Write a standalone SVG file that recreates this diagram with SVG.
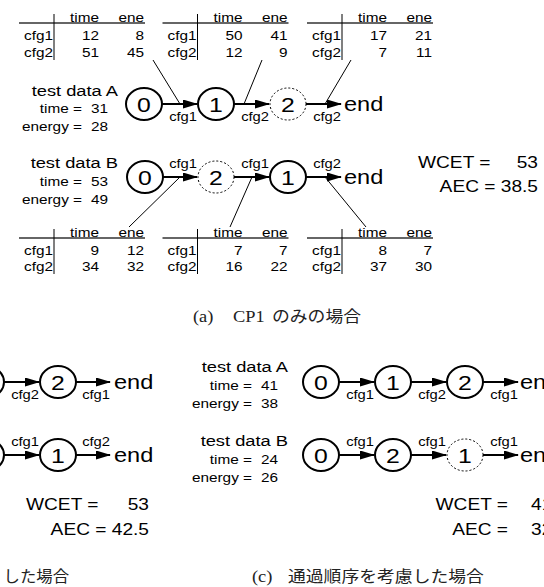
<svg xmlns="http://www.w3.org/2000/svg" width="544" height="587" viewBox="0 0 544 587">
<style>
text{font-family:"Liberation Sans",Arial,sans-serif;fill:#000}
.e{text-anchor:end}.m{text-anchor:middle}
.tb{font-size:13px}
.lb{font-size:15.5px}
.sm{font-size:13px}
.el{font-size:12.5px}
.nd{font-size:21px}
.en{font-size:20px}
.wc{font-size:16.5px}
.cap{font-family:"Liberation Serif","Noto Sans CJK JP",serif;font-size:16px;fill:#222}
.cj{font-size:15.5px}
.solid{fill:#fff;stroke:#000;stroke-width:2}
.dash{fill:#fff;stroke:#000;stroke-width:1;stroke-dasharray:2 2}
.edge{stroke:#000;stroke-width:2;fill:none}
.lead{stroke:#000;stroke-width:1;fill:none}
.hl{stroke:#333;stroke-width:1.3}
.vl{stroke:#000;stroke-width:1}
</style>
<defs>
<marker id="ah" markerUnits="userSpaceOnUse" markerWidth="16" markerHeight="10" refX="14" refY="4.5" orient="auto"><path d="M0,0 L15,4.5 L0,9 z" fill="#000"/></marker>
</defs>

<!-- ===== (a) tables top ===== -->
<g id="tableA1">
<line class="hl" x1="19" y1="23" x2="145" y2="23"/><line class="vl" x1="54" y1="14" x2="54" y2="60"/>
<text class="tb e" transform="translate(99 21.5) scale(1.18 1)">time</text><text class="tb e" transform="translate(144 21.5) scale(1.18 1)">ene</text>
<text class="tb e" transform="translate(53 40) scale(1.18 1)">cfg1</text><text class="tb e" transform="translate(99 40) scale(1.18 1)">12</text><text class="tb e" transform="translate(144 40) scale(1.18 1)">8</text>
<text class="tb e" transform="translate(53 57) scale(1.18 1)">cfg2</text><text class="tb e" transform="translate(99 57) scale(1.18 1)">51</text><text class="tb e" transform="translate(144 57) scale(1.18 1)">45</text>
</g>
<g id="tableA2">
<line class="hl" x1="162.5" y1="23" x2="288.5" y2="23"/><line class="vl" x1="197.5" y1="14" x2="197.5" y2="60"/>
<text class="tb e" transform="translate(242.5 21.5) scale(1.18 1)">time</text><text class="tb e" transform="translate(287.5 21.5) scale(1.18 1)">ene</text>
<text class="tb e" transform="translate(196.5 40) scale(1.18 1)">cfg1</text><text class="tb e" transform="translate(242.5 40) scale(1.18 1)">50</text><text class="tb e" transform="translate(287.5 40) scale(1.18 1)">41</text>
<text class="tb e" transform="translate(196.5 57) scale(1.18 1)">cfg2</text><text class="tb e" transform="translate(242.5 57) scale(1.18 1)">12</text><text class="tb e" transform="translate(287.5 57) scale(1.18 1)">9</text>
</g>
<g id="tableA3">
<line class="hl" x1="307" y1="23" x2="433" y2="23"/><line class="vl" x1="342" y1="14" x2="342" y2="60"/>
<text class="tb e" transform="translate(387 21.5) scale(1.18 1)">time</text><text class="tb e" transform="translate(432 21.5) scale(1.18 1)">ene</text>
<text class="tb e" transform="translate(341 40) scale(1.18 1)">cfg1</text><text class="tb e" transform="translate(387 40) scale(1.18 1)">17</text><text class="tb e" transform="translate(432 40) scale(1.18 1)">21</text>
<text class="tb e" transform="translate(341 57) scale(1.18 1)">cfg2</text><text class="tb e" transform="translate(387 57) scale(1.18 1)">7</text><text class="tb e" transform="translate(432 57) scale(1.18 1)">11</text>
</g>

<!-- ===== (a) tables bottom ===== -->
<g id="tableA4">
<line class="hl" x1="19" y1="238" x2="145" y2="238"/><line class="vl" x1="54" y1="229" x2="54" y2="274"/>
<text class="tb e" transform="translate(99 236.5) scale(1.18 1)">time</text><text class="tb e" transform="translate(144 236.5) scale(1.18 1)">ene</text>
<text class="tb e" transform="translate(53 255) scale(1.18 1)">cfg1</text><text class="tb e" transform="translate(99 255) scale(1.18 1)">9</text><text class="tb e" transform="translate(144 255) scale(1.18 1)">12</text>
<text class="tb e" transform="translate(53 271) scale(1.18 1)">cfg2</text><text class="tb e" transform="translate(99 271) scale(1.18 1)">34</text><text class="tb e" transform="translate(144 271) scale(1.18 1)">32</text>
</g>
<g id="tableA5">
<line class="hl" x1="162.5" y1="238" x2="288.5" y2="238"/><line class="vl" x1="197.5" y1="229" x2="197.5" y2="274"/>
<text class="tb e" transform="translate(242.5 236.5) scale(1.18 1)">time</text><text class="tb e" transform="translate(287.5 236.5) scale(1.18 1)">ene</text>
<text class="tb e" transform="translate(196.5 255) scale(1.18 1)">cfg1</text><text class="tb e" transform="translate(242.5 255) scale(1.18 1)">7</text><text class="tb e" transform="translate(287.5 255) scale(1.18 1)">7</text>
<text class="tb e" transform="translate(196.5 271) scale(1.18 1)">cfg2</text><text class="tb e" transform="translate(242.5 271) scale(1.18 1)">16</text><text class="tb e" transform="translate(287.5 271) scale(1.18 1)">22</text>
</g>
<g id="tableA6">
<line class="hl" x1="307" y1="238" x2="433" y2="238"/><line class="vl" x1="342" y1="229" x2="342" y2="274"/>
<text class="tb e" transform="translate(387 236.5) scale(1.18 1)">time</text><text class="tb e" transform="translate(432 236.5) scale(1.18 1)">ene</text>
<text class="tb e" transform="translate(341 255) scale(1.18 1)">cfg1</text><text class="tb e" transform="translate(387 255) scale(1.18 1)">8</text><text class="tb e" transform="translate(432 255) scale(1.18 1)">7</text>
<text class="tb e" transform="translate(341 271) scale(1.18 1)">cfg2</text><text class="tb e" transform="translate(387 271) scale(1.18 1)">37</text><text class="tb e" transform="translate(432 271) scale(1.18 1)">30</text>
</g>

<!-- ===== (a) labels ===== -->
<g id="labelsA">
<text class="lb e" transform="translate(118 96) scale(1.18 1)">test data A</text>
<text class="sm e" transform="translate(82 113) scale(1.18 1)">time =</text><text class="sm e" transform="translate(108 113) scale(1.18 1)">31</text>
<text class="sm e" transform="translate(82 131) scale(1.18 1)">energy =</text><text class="sm e" transform="translate(108 131) scale(1.18 1)">28</text>
<text class="lb e" transform="translate(118 168) scale(1.18 1)">test data B</text>
<text class="sm e" transform="translate(82 186) scale(1.18 1)">time =</text><text class="sm e" transform="translate(108 186) scale(1.18 1)">53</text>
<text class="sm e" transform="translate(82 204) scale(1.18 1)">energy =</text><text class="sm e" transform="translate(108 204) scale(1.18 1)">49</text>
<text class="wc" transform="translate(418 168) scale(1.16 1)">WCET =</text><text class="wc e" transform="translate(538 168) scale(1.16 1)">53</text>
<text class="wc e" transform="translate(538 192) scale(1.16 1)">AEC = 38.5</text>
<text class="cap" transform="translate(193 322) scale(1.15 1)"><tspan x="0">(a)</tspan><tspan x="34.8">CP1</tspan><tspan class="cj" x="68.7">のみの場合</tspan></text>
</g>

<!-- ===== connectors ===== -->
<g id="connectors">
<line class="lead" x1="153" y1="60" x2="180" y2="104"/>
<line class="lead" x1="262" y1="60" x2="244" y2="104"/>
<line class="lead" x1="351" y1="60" x2="325" y2="104"/>
<line class="lead" x1="180" y1="177" x2="129" y2="227"/>
<line class="lead" x1="252" y1="177" x2="230" y2="227"/>
<line class="lead" x1="325" y1="177" x2="366" y2="227"/>
<!-- (a) edges -->
<line class="edge" x1="162" y1="104" x2="197" y2="104" marker-end="url(#ah)"/>
<line class="edge" x1="234" y1="104" x2="269" y2="104" marker-end="url(#ah)"/>
<line class="edge" x1="306" y1="104" x2="341" y2="104" marker-end="url(#ah)"/>
<line class="edge" x1="163" y1="177" x2="197" y2="177" marker-end="url(#ah)"/>
<line class="edge" x1="234" y1="177" x2="269" y2="177" marker-end="url(#ah)"/>
<line class="edge" x1="306" y1="177" x2="341" y2="177" marker-end="url(#ah)"/>
<!-- (b) edges -->
<line class="edge" x1="4" y1="382" x2="39" y2="382" marker-end="url(#ah)"/>
<line class="edge" x1="76" y1="382" x2="110" y2="382" marker-end="url(#ah)"/>
<line class="edge" x1="4" y1="455" x2="39" y2="455" marker-end="url(#ah)"/>
<line class="edge" x1="76" y1="455" x2="110" y2="455" marker-end="url(#ah)"/>
<!-- (c) edges -->
<line class="edge" x1="339" y1="382" x2="374" y2="382" marker-end="url(#ah)"/>
<line class="edge" x1="411" y1="382" x2="446" y2="382" marker-end="url(#ah)"/>
<line class="edge" x1="483" y1="382" x2="518" y2="382" marker-end="url(#ah)"/>
<line class="edge" x1="339" y1="455" x2="374" y2="455" marker-end="url(#ah)"/>
<line class="edge" x1="411" y1="455" x2="446" y2="455" marker-end="url(#ah)"/>
<line class="edge" x1="483" y1="455" x2="518" y2="455" marker-end="url(#ah)"/>
<!-- edge labels -->
<text class="el e" transform="translate(197 121) scale(1.18 1)">cfg1</text>
<text class="el e" transform="translate(269 121) scale(1.18 1)">cfg2</text>
<text class="el e" transform="translate(341 121) scale(1.18 1)">cfg2</text>
<text class="el e" transform="translate(197 168) scale(1.18 1)">cfg1</text>
<text class="el e" transform="translate(269 168) scale(1.18 1)">cfg1</text>
<text class="el e" transform="translate(341 168) scale(1.18 1)">cfg2</text>
<text class="el e" transform="translate(39 399) scale(1.18 1)">cfg2</text>
<text class="el e" transform="translate(110 399) scale(1.18 1)">cfg1</text>
<text class="el e" transform="translate(39 446) scale(1.18 1)">cfg1</text>
<text class="el e" transform="translate(110 446) scale(1.18 1)">cfg2</text>
<text class="el e" transform="translate(374 399) scale(1.18 1)">cfg1</text>
<text class="el e" transform="translate(446 399) scale(1.18 1)">cfg2</text>
<text class="el e" transform="translate(518 399) scale(1.18 1)">cfg1</text>
<text class="el e" transform="translate(374 446) scale(1.18 1)">cfg1</text>
<text class="el e" transform="translate(446 446) scale(1.18 1)">cfg1</text>
<text class="el e" transform="translate(518 446) scale(1.18 1)">cfg1</text>
</g>

<!-- ===== (a) nodes ===== -->
<g id="a_A0"><ellipse class="solid" cx="144" cy="104" rx="18" ry="16"/><text class="nd m" transform="translate(144 111.5) scale(1.18 1)">0</text></g>
<g id="a_A1"><ellipse class="solid" cx="216" cy="104" rx="18" ry="16"/><text class="nd m" transform="translate(216 111.5) scale(1.18 1)">1</text></g>
<g id="a_A2"><ellipse class="dash" cx="288" cy="104" rx="18" ry="16"/><text class="nd m" transform="translate(288 111.5) scale(1.18 1)">2</text></g>
<g id="a_Aend"><text class="en" transform="translate(344 111) scale(1.18 1)">end</text></g>
<g id="a_B0"><ellipse class="solid" cx="145" cy="177" rx="18" ry="16"/><text class="nd m" transform="translate(145 184.5) scale(1.18 1)">0</text></g>
<g id="a_B2"><ellipse class="dash" cx="216" cy="177" rx="18" ry="16"/><text class="nd m" transform="translate(216 184.5) scale(1.18 1)">2</text></g>
<g id="a_B1"><ellipse class="solid" cx="288" cy="177" rx="18" ry="16"/><text class="nd m" transform="translate(288 184.5) scale(1.18 1)">1</text></g>
<g id="a_Bend"><text class="en" transform="translate(344 184) scale(1.18 1)">end</text></g>

<!-- ===== (b) ===== -->
<g id="b_Ax"><ellipse class="solid" cx="-14" cy="382" rx="18" ry="16"/></g>
<g id="b_A2"><ellipse class="solid" cx="58" cy="382" rx="18" ry="16"/><text class="nd m" transform="translate(58 389.5) scale(1.18 1)">2</text></g>
<g id="b_Aend"><text class="en" transform="translate(114 389) scale(1.18 1)">end</text></g>
<g id="b_Bx"><ellipse class="solid" cx="-14" cy="455" rx="18" ry="16"/></g>
<g id="b_B1"><ellipse class="solid" cx="58" cy="455" rx="18" ry="16"/><text class="nd m" transform="translate(58 462.5) scale(1.18 1)">1</text></g>
<g id="b_Bend"><text class="en" transform="translate(114 462) scale(1.18 1)">end</text></g>
<g id="labelsB">
<text class="wc" transform="translate(26 510) scale(1.16 1)">WCET =</text><text class="wc e" transform="translate(149 510) scale(1.16 1)">53</text>
<text class="wc e" transform="translate(149 535) scale(1.16 1)">AEC = 42.5</text>
<text class="cap cj" transform="translate(3.5 582) scale(1.06 1)">した場合</text>
</g>

<!-- ===== (c) ===== -->
<g id="labelsC">
<text class="lb e" transform="translate(288 372) scale(1.18 1)">test data A</text>
<text class="sm e" transform="translate(252 390) scale(1.18 1)">time =</text><text class="sm e" transform="translate(278 390) scale(1.18 1)">41</text>
<text class="sm e" transform="translate(252 408) scale(1.18 1)">energy =</text><text class="sm e" transform="translate(278 408) scale(1.18 1)">38</text>
<text class="lb e" transform="translate(288 446) scale(1.18 1)">test data B</text>
<text class="sm e" transform="translate(252 464) scale(1.18 1)">time =</text><text class="sm e" transform="translate(278 464) scale(1.18 1)">24</text>
<text class="sm e" transform="translate(252 482) scale(1.18 1)">energy =</text><text class="sm e" transform="translate(278 482) scale(1.18 1)">26</text>
<text class="wc e" transform="translate(508 510) scale(1.16 1)">WCET =</text><text class="wc" transform="translate(531 510) scale(1.16 1)">41</text>
<text class="wc e" transform="translate(508 535) scale(1.16 1)">AEC =</text><text class="wc" transform="translate(531 535) scale(1.16 1)">32</text>
<text class="cap" transform="translate(252 582) scale(1.15 1)"><tspan x="0">(c)</tspan><tspan class="cj" x="31.3">通過順序を考慮した場合</tspan></text>
</g>
<g id="c_A0"><ellipse class="solid" cx="321" cy="382" rx="18" ry="16"/><text class="nd m" transform="translate(321 389.5) scale(1.18 1)">0</text></g>
<g id="c_A1"><ellipse class="solid" cx="393" cy="382" rx="18" ry="16"/><text class="nd m" transform="translate(393 389.5) scale(1.18 1)">1</text></g>
<g id="c_A2"><ellipse class="solid" cx="465" cy="382" rx="18" ry="16"/><text class="nd m" transform="translate(465 389.5) scale(1.18 1)">2</text></g>
<g id="c_Aend"><text class="en" transform="translate(520 389) scale(1.18 1)">end</text></g>
<g id="c_B0"><ellipse class="solid" cx="321" cy="455" rx="18" ry="16"/><text class="nd m" transform="translate(321 462.5) scale(1.18 1)">0</text></g>
<g id="c_B2"><ellipse class="solid" cx="393" cy="455" rx="18" ry="16"/><text class="nd m" transform="translate(393 462.5) scale(1.18 1)">2</text></g>
<g id="c_B1"><ellipse class="dash" cx="465" cy="455" rx="18" ry="16"/><text class="nd m" transform="translate(465 462.5) scale(1.18 1)">1</text></g>
<g id="c_Bend"><text class="en" transform="translate(520 462) scale(1.18 1)">end</text></g>
</svg>
